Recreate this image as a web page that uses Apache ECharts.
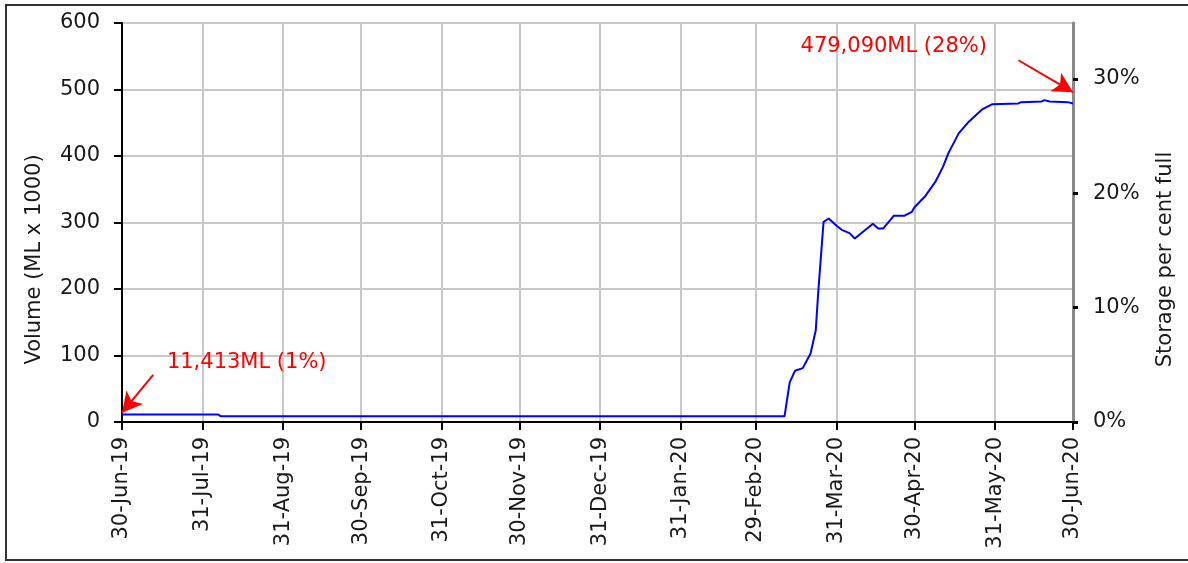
<!DOCTYPE html>
<html>
<head>
<meta charset="utf-8">
<script src="https://cdn.jsdelivr.net/npm/echarts@6/dist/echarts.min.js"></script>
<style>
  html, body { margin: 0; padding: 0; background: #fff; }
  #chart { width: 1188px; height: 563px; }
</style>
</head>
<body>
<div id="chart"></div>
<script>
// storage volume, ML x 1000
var dates = ['2019-06-30', '2019-08-06', '2019-08-07', '2020-03-11', '2020-03-12', '2020-03-13',
  '2020-03-15', '2020-03-18', '2020-03-21', '2020-03-23', '2020-03-24', '2020-03-26', '2020-03-28',
  '2020-03-31', '2020-04-02', '2020-04-05', '2020-04-07', '2020-04-14', '2020-04-16', '2020-04-18',
  '2020-04-22', '2020-04-26', '2020-04-29', '2020-04-30', '2020-05-04', '2020-05-08', '2020-05-11',
  '2020-05-13', '2020-05-17', '2020-05-21', '2020-05-26', '2020-05-30', '2020-06-09', '2020-06-10',
  '2020-06-18', '2020-06-19', '2020-06-21', '2020-06-28', '2020-06-30']
var volume = [11.413, 11.2, 8.8, 8.8, 35, 60,
  77, 81, 103, 138, 198, 301, 306,
  295, 289, 284, 276, 298, 291, 291,
  310, 310, 316, 323, 339, 361, 384,
  404, 434, 452, 470, 478, 479, 481,
  482, 484, 482, 481, 479.09]

// month-end ticks on the date axis
var tickDates = ['2019-06-30', '2019-07-31', '2019-08-31', '2019-09-30', '2019-10-31', '2019-11-30',
  '2019-12-31', '2020-01-31', '2020-02-29', '2020-03-31', '2020-04-30', '2020-05-31', '2020-06-30']
var monthNames = ['Jan', 'Feb', 'Mar', 'Apr', 'May', 'Jun', 'Jul', 'Aug', 'Sep', 'Oct', 'Nov', 'Dec']

var pctTicks = [0, 10, 20, 30]
var pctMax = 34.9 // 600 on the volume axis

// annotations: text, text position, arrow start, arrow end
var noteText = ['11,413ML (1%)', '479,090ML (28%)']
var notePos = [['2019-08-17', 90], ['2020-04-22', 564]]
var arrowFrom = [['2019-07-12', 71], ['2020-06-09', 544]]
var arrowTo = [['2019-06-30', 14], ['2020-06-30', 496]]

var font = 'DejaVu Sans'
var DAY = 86400000
var start = Date.UTC(2019, 5, 30)

// day number counted from 30-Jun-19
function dayNo(s) {
  var p = s.split('-')
  return Math.round((Date.UTC(+p[0], +p[1] - 1, +p[2]) - start) / DAY)
}
function fmtDay(v) {
  var d = new Date(start + v * DAY)
  return d.getUTCDate() + '-' + monthNames[d.getUTCMonth()] + '-' + String(d.getUTCFullYear()).slice(2)
}

var tickDays = tickDates.map(dayNo)
var lineData = dates.map(function(d, i) { return [dayNo(d), volume[i]] })

var option = {
  animation: false,
  backgroundColor: '#fff',
  grid: { left: 122, right: 115, top: 23, bottom: 141 },
  graphic: [{
    type: 'rect',
    shape: { x: 6, y: 5, width: 1186, height: 555 },
    style: { fill: 'none', stroke: '#333', lineWidth: 2 },
    silent: true
  }],
  xAxis: {
    type: 'value',
    min: tickDays[0],
    max: tickDays[tickDays.length - 1],
    axisLine: { lineStyle: { color: '#000', width: 2 } },
    axisTick: { customValues: tickDays, length: 8, lineStyle: { color: '#000', width: 2 } },
    axisLabel: {
      customValues: tickDays,
      rotate: 90,
      margin: 15,
      padding: [0, 0, 0, 0],
      formatter: fmtDay,
      color: '#1a1a1a',
      fontFamily: font,
      fontSize: 21
    },
    splitLine: { show: true, lineStyle: { color: '#c8c8c8', width: 2 } }
  },
  yAxis: [{
    type: 'value',
    min: 0,
    max: 600,
    interval: 100,
    name: 'Volume (ML x 1000)',
    nameLocation: 'middle',
    nameGap: 77,
    nameRotate: 90,
    nameTextStyle: { color: '#1a1a1a', fontFamily: font, fontSize: 21, padding: [0, 74, 0, 0] },
    axisLine: { show: true, lineStyle: { color: '#000', width: 2 } },
    axisTick: { show: true, length: 8, lineStyle: { color: '#000', width: 2 } },
    axisLabel: { margin: 22, color: '#1a1a1a', fontFamily: font, fontSize: 21 },
    splitLine: { show: true, lineStyle: { color: '#c8c8c8', width: 2 } }
  }, {
    type: 'value',
    position: 'right',
    min: 0,
    max: pctMax,
    interval: 10,
    name: 'Storage per cent full',
    nameLocation: 'middle',
    nameGap: 82,
    nameRotate: 90,
    nameTextStyle: { color: '#1a1a1a', fontFamily: font, fontSize: 21, padding: [0, 74, 0, 0] },
    axisLine: { show: true, lineStyle: { color: '#888', width: 3 } },
    axisTick: { show: true, customValues: pctTicks, length: 5, lineStyle: { color: '#000', width: 3 } },
    axisLabel: {
      customValues: pctTicks,
      margin: 20,
      color: '#1a1a1a',
      fontFamily: font,
      fontSize: 21,
      formatter: function(v) { return v + '%' }
    },
    splitLine: { show: false }
  }],
  series: [{
    type: 'line',
    data: lineData,
    showSymbol: false,
    lineStyle: { color: '#0000ff', width: 2 },
    markLine: {
      silent: true,
      symbol: ['none', 'arrow'],
      symbolSize: [16, 20],
      lineStyle: { color: '#ff0000', width: 2, type: 'solid' },
      label: { show: false },
      data: arrowFrom.map(function(p, i) {
        return [{ coord: [dayNo(p[0]), p[1]] }, { coord: [dayNo(arrowTo[i][0]), arrowTo[i][1]] }]
      })
    },
    markPoint: {
      silent: true,
      symbol: 'circle',
      symbolSize: 1,
      itemStyle: { color: 'rgba(0,0,0,0)' },
      label: { show: true, position: 'inside', color: '#ff0000', fontFamily: font, fontSize: 21 },
      data: notePos.map(function(p, i) {
        return { coord: [dayNo(p[0]), p[1]], label: { formatter: noteText[i] } }
      })
    }
  }]
}

var myChart = echarts.init(document.getElementById('chart'))
myChart.setOption(option)
</script>
</body>
</html>
